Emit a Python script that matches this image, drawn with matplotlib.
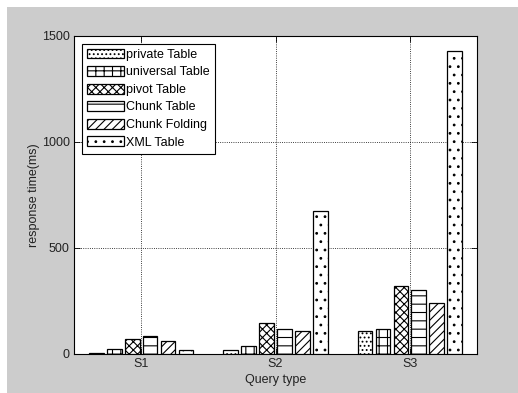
import numpy as np
import matplotlib
matplotlib.use('Agg')
import matplotlib.pyplot as plt
from matplotlib.patches import Rectangle

plt.rcParams['font.family'] = ['Liberation Sans', 'DejaVu Sans']
plt.rcParams['hatch.linewidth'] = 0.8
matplotlib.rcParams['xtick.direction'] = 'in'
matplotlib.rcParams['ytick.direction'] = 'in'

queries = ['S1', 'S2', 'S3']
series = ['private Table', 'universal Table', 'pivot Table',
          'Chunk Table', 'Chunk Folding', 'XML Table']
private_tbl = [4, 20, 108]
universal_tbl = [24, 36, 120]
pivot_tbl = [70, 145, 322]
chunk_tbl = [86, 120, 303]
folding_tbl = [60, 108, 239]
xml_tbl = [20, 675, 1431]
hatches = ['....', '++', 'xxxx', '--', '////', '..']

values = [private_tbl, universal_tbl, pivot_tbl, chunk_tbl, folding_tbl, xml_tbl]

fig = plt.figure(figsize=(5.18, 3.93), dpi=100, facecolor='#cccccc')
# thin white margin on top and left
fig.patches.append(Rectangle((0, 1 - 7/393), 1, 7/393, transform=fig.transFigure,
                             facecolor='white', edgecolor='none', zorder=-10))
fig.patches.append(Rectangle((0, 0), 7/518, 1, transform=fig.transFigure,
                             facecolor='white', edgecolor='none', zorder=-10))
ax = fig.add_axes([74/518, 39/393, 403/518, 318/393])

x = np.arange(1, len(queries) + 1)
step = 0.8 / len(series)
width = step * 0.82
for i, (name, vals, h) in enumerate(zip(series, values, hatches)):
    off = (i - (len(series) - 1) / 2) * step
    ax.bar(x + off, vals, width, facecolor='white', edgecolor='black',
           hatch=h, linewidth=0.9, label=name, zorder=3)

ax.set_xlim(0.5, 3.5)
ax.set_ylim(0, 1500)
ax.set_xticks(x)
ax.set_xticklabels(queries)
ax.set_yticks([0, 500, 1000, 1500])
ax.tick_params(labelsize=9, length=4, width=0.6, top=True, right=True, pad=3,
               labelcolor='#222222')
ax.grid(True, linestyle=':', color='black', linewidth=0.6, zorder=0)
for s in ax.spines.values():
    s.set_linewidth(0.8)
ax.set_xlabel('Query type', fontsize=9, labelpad=3, color='#222222')
ax.set_ylabel('response time(ms)', fontsize=9, labelpad=1, color='#222222')

leg = ax.legend(loc='upper left', fontsize=9, fancybox=False, framealpha=1,
                edgecolor='black', handlelength=3.0, handleheight=0.85,
                labelspacing=0.42, handletextpad=0.15, borderpad=0.4,
                borderaxespad=0.6)
leg.get_frame().set_linewidth(0.8)

fig.savefig('out.png', dpi=100, facecolor=fig.get_facecolor())
